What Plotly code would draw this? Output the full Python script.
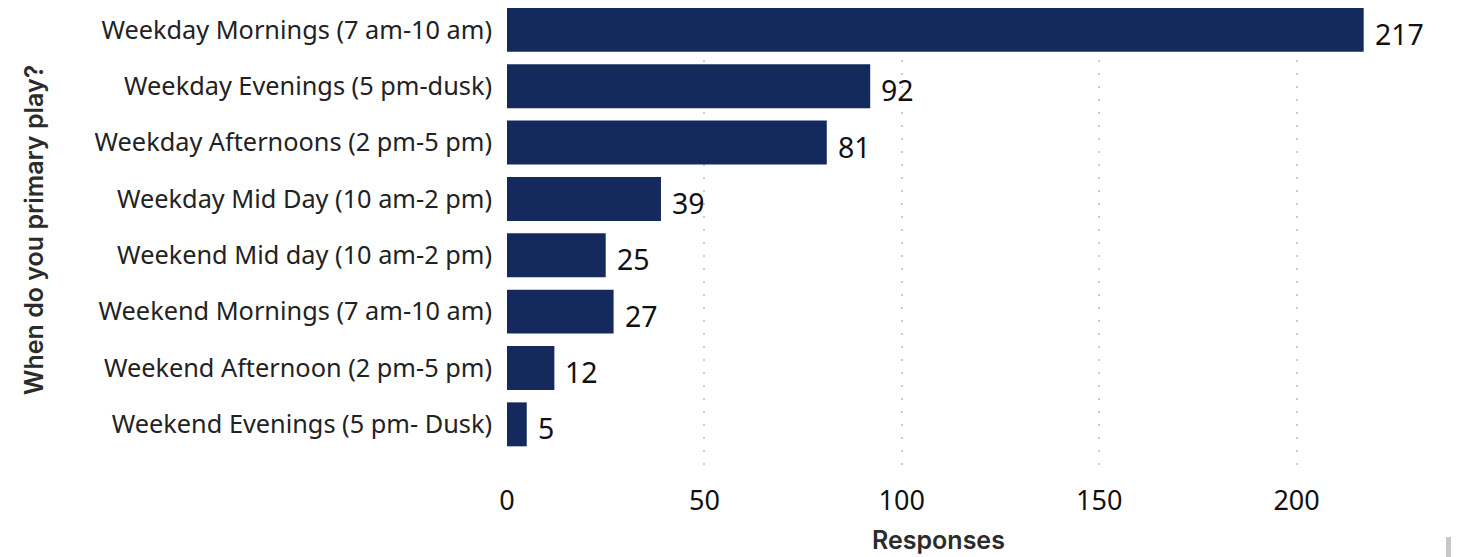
import plotly.graph_objects as go

categories = [
    "Weekday Mornings (7 am-10 am)",
    "Weekday Evenings (5 pm-dusk)",
    "Weekday Afternoons (2 pm-5 pm)",
    "Weekday Mid Day (10 am-2 pm)",
    "Weekend Mid day (10 am-2 pm)",
    "Weekend Mornings (7 am-10 am)",
    "Weekend Afternoon (2 pm-5 pm)",
    "Weekend Evenings (5 pm- Dusk)",
]
responses = [217, 92, 81, 39, 25, 27, 12, 5]
x_ticks = [0, 50, 100, 150, 200]

BAR = "#142a5c"
FONT = "Noto Sans, Open Sans, sans-serif"
TFONT = "Inter, Roboto, sans-serif"

OFF = 8  # page body margin
W, H = 1459 - OFF, 557 - OFF
# pixel geometry in window coordinates
L_WIN, R_WIN, T_WIN, B_WIN = 507, 1415, 0, 470
L, T = L_WIN - OFF, 0
R = W - (R_WIN - OFF)
B = H - (B_WIN - OFF)
PW, PH = W - L - R, H - T - B


def px(xw):
    return (xw - OFF - L) / PW


def py(yw):
    return (H - B - (yw - OFF)) / PH


fig = go.Figure()
fig.add_trace(go.Bar(
    y=categories, x=responses, orientation="h",
    marker=dict(color=BAR, line=dict(width=0)),
    width=0.78, showlegend=False, hoverinfo="x+y",
))

for c, v in zip(categories, responses):
    fig.add_annotation(x=v, y=c, xref="x", yref="y", text=str(v),
                       showarrow=False, xanchor="left", yanchor="middle",
                       xshift=9, yshift=-4,
                       font=dict(family=FONT, size=28.5, color="#111111"))

fig.add_annotation(x=px(938), y=py(540), xref="paper", yref="paper",
                   text="Responses", showarrow=False,
                   xanchor="center", yanchor="middle",
                   font=dict(family=TFONT, size=25, weight=600, color="#2b2b2b"))
fig.add_annotation(x=px(34), y=py(230), xref="paper", yref="paper",
                   text="When do you primary play?", showarrow=False,
                   textangle=-90, xanchor="center", yanchor="middle",
                   font=dict(family=TFONT, size=25, weight=600, color="#2b2b2b"))

# y-range chosen so that the plot spans window y 0..470 (top clipped by page margin)
y_top_cat = -0.53 + (OFF / 56.3)

fig.update_layout(
    width=W, height=H,
    margin=dict(l=L, r=R, t=T, b=B, autoexpand=False),
    paper_bgcolor="white", plot_bgcolor="white",
    xaxis=dict(
        range=[0, 230], tickvals=x_ticks, ticks="", showline=False,
        zeroline=False, showgrid=True, gridcolor="#cccccc", griddash="2px,11px",
        gridwidth=2, automargin=False, ticklabelstandoff=12,
        tickfont=dict(family=FONT, size=27, color="#111111"),
    ),
    yaxis=dict(
        categoryorder="array", categoryarray=categories,
        range=[7.81, y_top_cat], ticks="", showline=False, showgrid=False,
        zeroline=False, automargin=False, ticklabelstandoff=14,
        tickfont=dict(family=FONT, size=25.3, color="#222222"),
    ),
    shapes=[dict(type="rect", xref="paper", yref="paper",
                 x0=px(1446), x1=px(1459), y0=py(557), y1=py(537),
                 fillcolor="#c8c8c8", line=dict(width=0))],
)

fig.write_html("out.html")
